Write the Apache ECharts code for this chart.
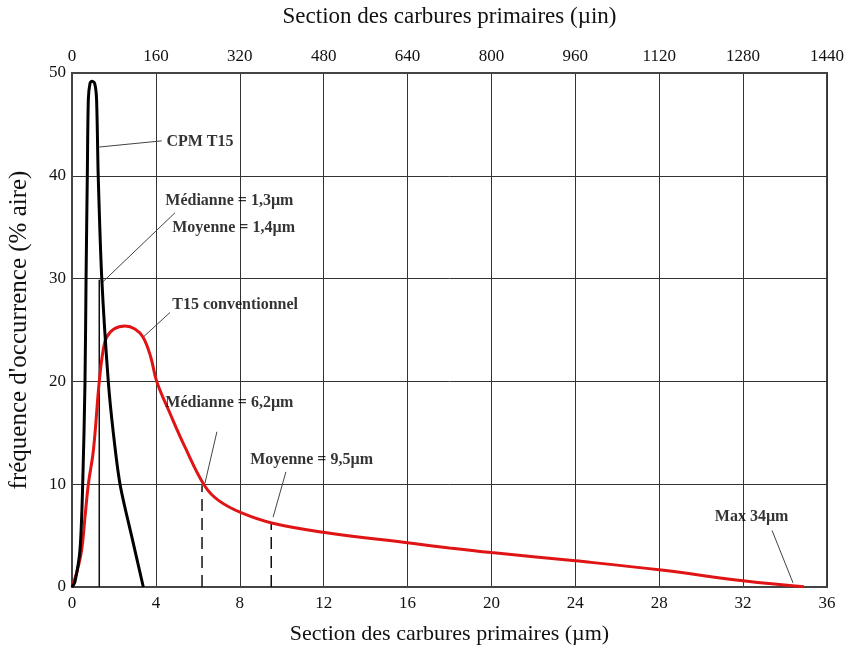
<!DOCTYPE html>
<html>
<head>
<meta charset="utf-8">
<script src="https://cdn.jsdelivr.net/npm/echarts@6/dist/echarts.min.js"></script>
<style>html,body{margin:0;padding:0;background:#fff}#c{width:852px;height:650px}</style>
</head>
<body>
<div id="c"></div>
<script>
// ---- data (x in µm, y in % aire) ----
var xTicksUm = [0, 4, 8, 12, 16, 20, 24, 28, 32, 36];
var xTicksUin = [0, 160, 320, 480, 640, 800, 960, 1120, 1280, 1440];
var yTicks = [0, 10, 20, 30, 40, 50];

var cpmX = [0, 0.14, 0.38, 0.51, 0.62, 0.67, 0.73, 0.78, 0.86, 0.95, 1.08, 1.17, 1.25, 1.42, 1.73, 1.97, 2.29, 2.85, 3.4];
var cpmY = [0, 0.5, 3.6, 10, 20, 30, 40, 47.5, 49.0, 49.2, 49.0, 47.5, 40, 30, 20, 15, 10, 4.9, 0];

var convX = [0, 0.25, 0.46, 0.62, 0.78, 1.02, 1.3, 1.49, 1.65, 2.0, 2.53, 3.0, 3.39, 3.75, 4.04, 4.67, 5.39, 6.34, 7.0, 8.09, 9.57, 12.06, 16.2, 18.0, 20.0, 24.0, 28.1, 32.1, 34.9];
var convY = [0, 1.6, 3.6, 6.8, 10, 13.3, 20, 23.1, 24.3, 25.1, 25.4, 25.1, 24.3, 22.4, 20.0, 16.9, 13.6, 9.8, 8.4, 7.2, 6.2, 5.3, 4.25, 3.8, 3.35, 2.55, 1.65, 0.58, 0.03];

// statistic markers: [x, top y]
var cpmMedian = [1.3, 29.9];
var convMedian = [6.2, 9.9];
var convMean = [9.5, 6.3];

// annotation texts and anchor points (data coordinates)
var noteTexts = ['CPM T15', 'Médianne = 1,3µm', 'Moyenne = 1,4µm', 'T15 conventionnel', 'Médianne = 6,2µm', 'Moyenne = 9,5µm', 'Max 34µm'];
var noteX = [4.5, 4.45, 4.78, 4.78, 4.45, 8.5, 30.65];
var noteY = [43.3, 37.6, 34.9, 27.4, 17.9, 12.4, 6.8];

// leader lines: [x1, y1, x2, y2]
var leaders = [
  [1.30, 42.8, 4.28, 43.4],
  [1.48, 29.7, 4.91, 36.4],
  [3.39, 24.3, 4.67, 26.7],
  [6.34, 10.1, 6.91, 15.1],
  [9.59, 6.8, 10.2, 11.2],
  [34.38, 0.4, 33.38, 5.5]
];

function zip(a, b) { return a.map(function (v, i) { return [v, b[i]]; }); }

var FONT = 'Liberation Serif';
var series = [];

series.push({
  name: 'T15 conventionnel', type: 'line', data: zip(convX, convY),
  smooth: 0.4, symbol: 'none',
  lineStyle: { color: '#e01414', width: 3 }, z: 3
});
series.push({
  name: 'CPM T15', type: 'line', data: zip(cpmX, cpmY),
  smooth: 0.3, symbol: 'none',
  lineStyle: { color: '#000', width: 3 }, z: 4
});

function vline(p, dashed) {
  return {
    type: 'line', data: [[p[0], 0], [p[0], p[1]]], symbol: 'none', silent: true,
    lineStyle: { color: '#111', width: 1.5, type: dashed ? [12, 7] : 'solid' }, z: 2
  };
}
series.push(vline(cpmMedian, false));
series.push(vline(convMedian, true));
series.push(vline(convMean, true));

leaders.forEach(function (l) {
  series.push({
    type: 'line', data: [[l[0], l[1]], [l[2], l[3]]], symbol: 'none', silent: true,
    lineStyle: { color: '#444', width: 1 }, z: 2
  });
});

series.push({
  type: 'scatter', symbolSize: 0, silent: true, z: 5,
  data: noteTexts.map(function (t, i) { return { name: t, value: [noteX[i], noteY[i]] }; }),
  label: {
    show: true, position: 'right', distance: 0, formatter: '{b}',
    fontFamily: FONT, fontWeight: 'bold', fontSize: 16, color: '#000'
  }
});

var chart = echarts.init(document.getElementById('c'), null, { renderer: 'canvas' });
chart.setOption({
  animation: false,
  backgroundColor: '#fff',
  grid: { left: 72, right: 25, top: 73, bottom: 63, outerBoundsMode: 'none', containLabel: false, show: true, borderColor: '#444', borderWidth: 2, backgroundColor: 'transparent' },
  xAxis: [
    {
      type: 'value', min: xTicksUm[0], max: xTicksUm[xTicksUm.length - 1], interval: 4, position: 'bottom',
      name: 'Section des carbures primaires (µm)', nameLocation: 'middle', nameGap: 36,
      nameTextStyle: { fontFamily: FONT, fontSize: 22, color: '#111' },
      axisLine: { show: true, lineStyle: { color: '#444', width: 2 } },
      axisTick: { show: false },
      axisLabel: { fontFamily: FONT, fontSize: 17, color: '#111', margin: 8, formatter: function (v) { return String(v); } },
      splitLine: { show: true, lineStyle: { color: '#333', width: 1 } }
    },
    {
      type: 'value', min: xTicksUin[0], max: xTicksUin[xTicksUin.length - 1], interval: 160, position: 'top',
      name: 'Section des carbures primaires (µin)', nameLocation: 'middle', nameGap: 45,
      nameTextStyle: { fontFamily: FONT, fontSize: 23, color: '#111' },
      axisLine: { show: true, lineStyle: { color: '#444', width: 2 } },
      axisTick: { show: false },
      axisLabel: { fontFamily: FONT, fontSize: 17, color: '#111', margin: 8, formatter: function (v) { return String(v); } },
      splitLine: { show: false }
    }
  ],
  yAxis: {
    type: 'value', min: yTicks[0], max: yTicks[yTicks.length - 1], interval: 10,
    name: "fréquence d'occurrence (% aire)", nameLocation: 'middle', nameGap: 40, nameRotate: 90,
    nameTextStyle: { fontFamily: FONT, fontSize: 25, color: '#111' },
    axisLine: { show: true, lineStyle: { color: '#444', width: 2 } },
    axisTick: { show: false },
    axisLabel: { fontFamily: FONT, fontSize: 17, color: '#111', margin: 6 },
    splitLine: { show: true, lineStyle: { color: '#333', width: 1 } }
  },
  series: series
});
</script>
</body>
</html>
